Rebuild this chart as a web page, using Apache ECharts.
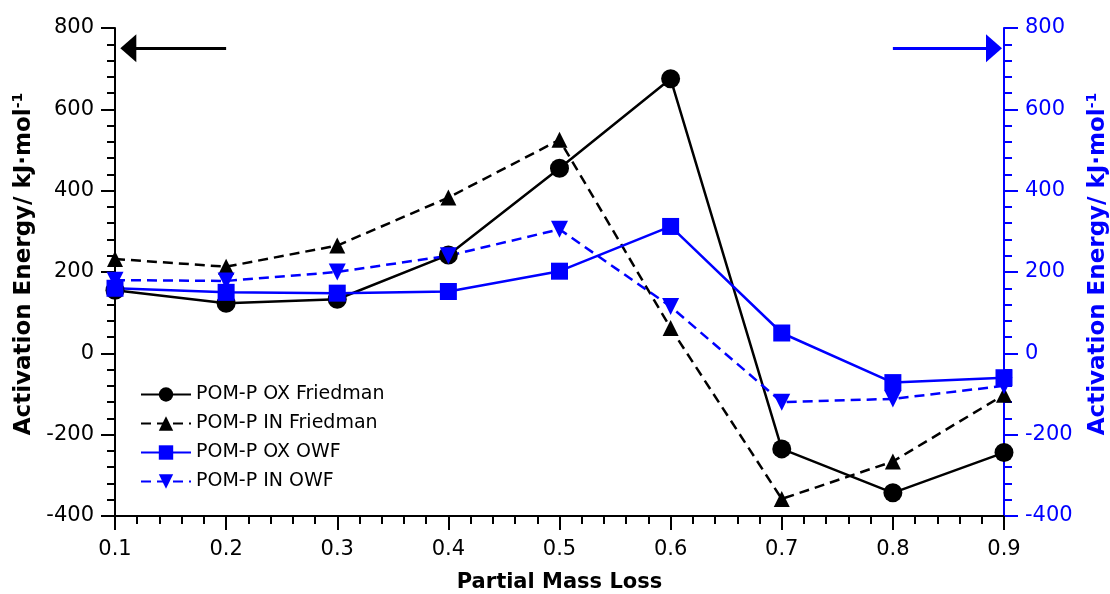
<!DOCTYPE html>
<html><head><meta charset="utf-8">
<script src="https://cdn.jsdelivr.net/npm/echarts@6/dist/echarts.min.js"></script>
<style>html,body{margin:0;padding:0;background:#fff}#c{width:1110px;height:594px}</style>
</head><body><div id="c"></div>
<script>
const xValues = [0.1, 0.2, 0.3, 0.4, 0.5, 0.6, 0.7, 0.8, 0.9];
const oxFriedman = [155, 123, 133, 242, 455, 675, -235, -343, -244];
const inFriedman = [232, 213, 265, 383, 525, 62, -358, -266, -102];
const oxOWF = [160, 150, 148, 152, 202, 312, 50, -72, -60];
const inOWF = [180, 178, 200, 240, 305, 115, -120, -112, -80];
const seriesNames = ['POM-P OX Friedman', 'POM-P IN Friedman', 'POM-P OX OWF', 'POM-P IN OWF'];
const xAxisName = 'Partial Mass Loss';
const yAxisName = 'Activation Energy/ kJ·mol';

const FONT = 'DejaVu Sans';
const BLUE = '#0000ff';
const pairs = arr => xValues.map((x, i) => [x, arr[i]]);

function yAxis(color, pos, nameGap) {
  return {
    type: 'value', position: pos, min: -400, max: 800, interval: 200,
    name: '{a|' + yAxisName + '}{s|-1}', nameLocation: 'middle', nameGap: nameGap,
    nameTextStyle: { padding: [0, 0, 0, 16], rich: {
      a: { fontFamily: FONT, fontWeight: 'bold', fontSize: 23, color: color },
      s: { fontFamily: FONT, fontWeight: 'bold', fontSize: 14, color: color, verticalAlign: 'top', padding: [0,0,12,0] }
    } },
    axisLine: { show: true, onZero: false, lineStyle: { color: color, width: 2 } },
    axisTick: { show: true, length: 14, lineStyle: { color: color, width: 2 } },
    minorTick: { show: true, splitNumber: 5, length: 8, lineStyle: { color: color, width: 2 } },
    splitLine: { show: false },
    axisLabel: { fontFamily: FONT, fontSize: 21, color: color, margin: 21 }
  };
}

function arrowLine(color, from, to) {
  return { silent: true, symbol: ['none', 'triangle'], symbolSize: [28, 16],
    lineStyle: { color: color, width: 3, type: 'solid' }, label: { show: false },
    data: [[ { coord: [from, 750] }, { coord: [to, 750] } ]] };
}

const chart = echarts.init(document.getElementById('c'), null, { renderer: 'canvas' });
chart.setOption({
  animation: false,
  backgroundColor: '#fff',
  grid: { left: 115, right: 106, top: 28, bottom: 78, containLabel: false, outerBoundsMode: 'none' },
  xAxis: {
    type: 'value', min: 0.1, max: 0.9, interval: 0.1,
    name: xAxisName, nameLocation: 'middle', nameGap: 56,
    nameTextStyle: { fontFamily: FONT, fontWeight: 'bold', fontSize: 21, color: '#000' },
    axisLine: { onZero: false, lineStyle: { color: '#000', width: 2 } },
    axisTick: { show: true, length: 14, lineStyle: { color: '#000', width: 2 } },
    minorTick: { show: true, splitNumber: 5, length: 8, lineStyle: { color: '#000', width: 2 } },
    splitLine: { show: false },
    axisLabel: { fontFamily: FONT, fontSize: 21, color: '#000', margin: 23, formatter: v => v.toFixed(1) }
  },
  yAxis: [ yAxis('#000', 'left', 77), yAxis(BLUE, 'right', 81) ],
  legend: {
    left: 135, top: 380, orient: 'vertical', itemGap: 10, itemWidth: 50, itemHeight: 18,
    textStyle: { fontFamily: FONT, fontSize: 19, color: '#000' },
    data: seriesNames
  },
  series: [
    { name: seriesNames[0], type: 'line', data: pairs(oxFriedman), symbol: 'circle', symbolSize: 19,
      itemStyle: { color: '#000' }, lineStyle: { color: '#000', width: 2.5 },
      markLine: arrowLine('#000', 0.2, 0.112) },
    { name: seriesNames[1], type: 'line', data: pairs(inFriedman), symbol: 'triangle', symbolSize: 16,
      itemStyle: { color: '#000' }, lineStyle: { color: '#000', width: 2.5, type: [10, 6] } },
    { name: seriesNames[2], type: 'line', data: pairs(oxOWF), yAxisIndex: 1, symbol: 'rect', symbolSize: 17,
      itemStyle: { color: BLUE }, lineStyle: { color: BLUE, width: 2.5 },
      markLine: arrowLine(BLUE, 0.8, 0.891) },
    { name: seriesNames[3], type: 'line', data: pairs(inOWF), yAxisIndex: 1, symbol: 'triangle', symbolRotate: 180, symbolSize: 17,
      itemStyle: { color: BLUE }, lineStyle: { color: BLUE, width: 2.5, type: [10, 6] } }
  ]
});
</script></body></html>
